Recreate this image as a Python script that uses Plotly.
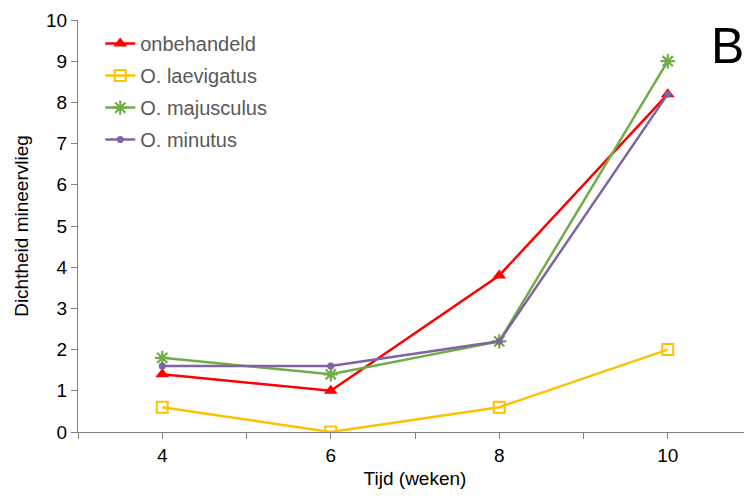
import plotly.graph_objects as go

weeks = [4, 6, 8, 10]
onbehandeld = [1.4, 1.0, 3.8, 8.2]
laevigatus = [0.6, 0.0, 0.6, 2.0]
majusculus = [1.8, 1.4, 2.2, 9.0]
minutus = [1.6, 1.6, 2.2, 8.2]

x_ticks = [3, 4, 5, 6, 7, 8, 9, 10, 11]
x_labels = ["", "4", "", "6", "", "8", "", "10", ""]
y_ticks = list(range(0, 11))

FONT = "Liberation Sans, Arial, Helvetica, sans-serif"

fig = go.Figure()
fig.add_trace(go.Scatter(x=weeks, y=onbehandeld, name="onbehandeld", mode="lines+markers",
                         legendgroup="a",
                         line=dict(color="#FF0000", width=2.5),
                         marker=dict(symbol="triangle-up", size=12, color="#FF0000")))
fig.add_trace(go.Scatter(x=weeks, y=laevigatus, name="O. laevigatus", mode="lines+markers",
                         legendgroup="b",
                         line=dict(color="#FFC000", width=2.5),
                         marker=dict(symbol="square-open", size=11, color="#FFC000",
                                     line=dict(width=2, color="#FFC000"))))
fig.add_trace(go.Scatter(x=weeks, y=majusculus, name="O. majusculus", mode="lines+markers",
                         legendgroup="c",
                         line=dict(color="#70AD47", width=2.5),
                         marker=dict(symbol="asterisk-open", size=12, color="#70AD47",
                                     line=dict(width=2.2, color="#70AD47"))))
fig.add_trace(go.Scatter(x=weeks, y=minutus, name="O. minutus", mode="lines+markers",
                         legendgroup="d",
                         line=dict(color="#8064A2", width=2.5),
                         marker=dict(symbol="circle", size=7, color="#8064A2")))

fig.update_layout(
    width=744, height=494,
    margin=dict(l=70, r=0, t=12, b=70),
    paper_bgcolor="white", plot_bgcolor="white",
    font=dict(family=FONT, size=19, color="black"),
    showlegend=True,
    legend=dict(x=0.033, y=0.99, xanchor="left", yanchor="top",
                bgcolor="rgba(0,0,0,0)", font=dict(size=20, color="#595959"),
                itemwidth=30, tracegroupgap=3),
    xaxis=dict(range=[3, 11], tickvals=x_ticks, ticktext=x_labels,
               showgrid=False, zeroline=False, showline=True, linecolor="#808080", linewidth=1.2,
               ticks="outside", ticklen=6, tickcolor="#808080",
               title=dict(text="Tijd (weken)", font=dict(size=19), standoff=6)),
    yaxis=dict(range=[0, 10], tickvals=y_ticks,
               showgrid=False, zeroline=False, showline=True, linecolor="#808080", linewidth=1.2,
               ticks="outside", ticklen=6, tickcolor="#808080",
               title=dict(text="Dichtheid mineervlieg", font=dict(size=19), standoff=12)),
    annotations=[dict(text="B", x=0.963, y=0.937, xref="paper", yref="paper",
                      xanchor="center", yanchor="middle", showarrow=False,
                      font=dict(size=50, color="black", family=FONT))],
)

fig.write_html("out.html")
